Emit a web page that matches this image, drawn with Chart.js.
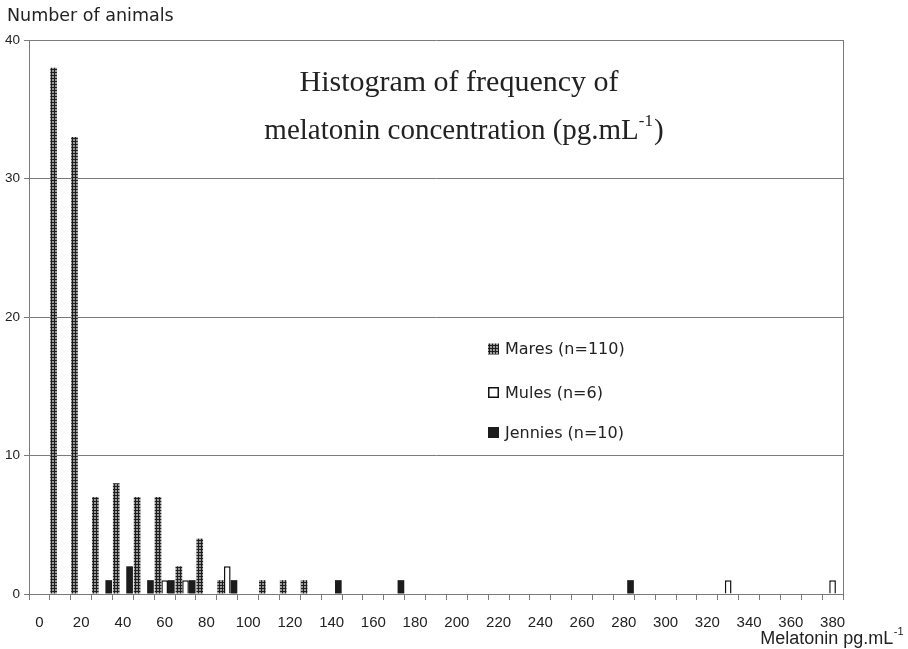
<!DOCTYPE html>
<html>
<head>
<meta charset="utf-8">
<script src="https://cdn.jsdelivr.net/npm/chart.js@4/dist/chart.umd.min.js"></script>
<style>
  html, body { margin: 0; padding: 0; background: #fff; }
  #wrap { width: 908px; height: 649px; position: relative; }
</style>
</head>
<body>
<div id="wrap"><canvas id="c" width="908" height="649"></canvas></div>
<script>
// ---- data ----
const bins = ['0','10','20','30','40','50','60','70','80','90','100','110','120','130','140','150','160','170','180','190',
              '200','210','220','230','240','250','260','270','280','290','300','310','320','330','340','350','360','370','380'];
const mares   = [0,38,33,7,8,7,7,2,4,1,0,1,1,1,0,0,0,0,0,0, 0,0,0,0,0,0,0,0,0,0,0,0,0,0,0,0,0,0,0];
const mules   = [0,0,0,0,0,0,1,1,0,2,0,0,0,0,0,0,0,0,0,0, 0,0,0,0,0,0,0,0,0,0,0,0,0,1,0,0,0,0,1];
const jennies = [0,0,0,1,2,1,1,1,0,1,0,0,0,0,1,0,0,1,0,0, 0,0,0,0,0,0,0,0,1,0,0,0,0,0,0,0,0,0,0];
const seriesNames = ['Mares (n=110)', 'Mules (n=6)', 'Jennies (n=10)'];
const yTicks = [0, 10, 20, 30, 40];
const yAxisTitle = 'Number of animals';
const xAxisTitle = 'Melatonin pg.mL';
const chartTitle1 = 'Histogram of frequency of';
const chartTitle2 = 'melatonin concentration (pg.mL';

// ---- pattern for Mares ----
function makePattern() {
  const p = document.createElement('canvas');
  p.width = 3; p.height = 3;
  const g = p.getContext('2d');
  g.fillStyle = '#9a9a9a';
  g.fillRect(0, 0, 3, 3);
  g.fillStyle = '#1e1e1e';
  g.fillRect(0, 0, 3, 1);
  g.fillRect(0, 0, 1, 3);
  return document.getElementById('c').getContext('2d').createPattern(p, 'repeat');
}
const maresFill = makePattern();

const GRID = '#7a7a7a';

const overlay = {
  id: 'overlay',
  afterDraw(chart) {
    const ctx = chart.ctx;
    const a = chart.chartArea;
    ctx.save();
    // right border of plot area
    ctx.strokeStyle = GRID;
    ctx.lineWidth = 1;
    ctx.beginPath();
    ctx.moveTo(Math.round(a.right) + 0.5, a.top);
    ctx.lineTo(Math.round(a.right) + 0.5, a.bottom);
    ctx.stroke();

    // y axis title
    ctx.fillStyle = '#222';
    ctx.textBaseline = 'alphabetic';
    ctx.textAlign = 'left';
    ctx.font = '17.5px "DejaVu Sans"';
    ctx.fillText(yAxisTitle, 7, 21);

    // x axis title with superscript
    ctx.font = '18px "Liberation Sans"';
    const w1 = ctx.measureText(xAxisTitle).width;
    ctx.font = '11px "Liberation Sans"';
    const w2 = ctx.measureText('-1').width;
    const xEnd = 903;
    const xs = xEnd - w2 - w1;
    ctx.font = '18px "Liberation Sans"';
    ctx.fillText(xAxisTitle, xs, 644);
    ctx.font = '11px "Liberation Sans"';
    ctx.fillText('-1', xs + w1 + 0.5, 635);

    // chart title (inside plot area)
    ctx.fillStyle = '#222';
    ctx.font = '30px "Liberation Serif"';
    ctx.textAlign = 'center';
    ctx.fillText(chartTitle1, 459, 91);
    ctx.textAlign = 'left';
    ctx.font = '29px "Liberation Serif"';
    const t2a = ctx.measureText(chartTitle2).width;
    ctx.font = '17px "Liberation Serif"';
    const t2b = ctx.measureText('-1').width;
    ctx.font = '29px "Liberation Serif"';
    const t2c = ctx.measureText(')').width;
    const total = t2a + t2b + t2c + 1;
    let x0 = 464 - total / 2;
    ctx.fillText(chartTitle2, x0, 139);
    ctx.font = '17px "Liberation Serif"';
    ctx.fillText('-1', x0 + t2a, 126);
    ctx.font = '29px "Liberation Serif"';
    ctx.fillText(')', x0 + t2a + t2b + 1, 139);

    // legend
    const rows = [349, 392.5, 432.5];
    ctx.font = '16px "DejaVu Sans"';
    ctx.textBaseline = 'middle';
    chart.data.datasets.forEach((ds, i) => {
      const y = rows[i];
      const sx = 488, s = 11;
      if (i === 0) {
        ctx.fillStyle = maresFill;
        ctx.fillRect(sx, y - s / 2, s, s);
      } else if (i === 1) {
        ctx.fillStyle = '#fff';
        ctx.fillRect(sx, y - s / 2, s, s);
        ctx.strokeStyle = '#111';
        ctx.lineWidth = 1.5;
        ctx.strokeRect(sx + 0.75, y - s / 2 + 0.75, s - 1.5, s - 1.5);
      } else {
        ctx.fillStyle = '#1c1c1c';
        ctx.fillRect(sx, y - s / 2, s, s);
      }
      ctx.fillStyle = '#222';
      ctx.fillText(ds.label, 505, y + 1);
    });
    ctx.restore();
  }
};

new Chart(document.getElementById('c'), {
  type: 'bar',
  data: {
    labels: bins,
    datasets: [
      { label: seriesNames[0], data: mares, backgroundColor: maresFill, borderWidth: 0 },
      { label: seriesNames[1], data: mules, backgroundColor: '#ffffff', borderColor: '#111', borderWidth: 1.5 },
      { label: seriesNames[2], data: jennies, backgroundColor: '#1c1c1c', borderWidth: 0 }
    ]
  },
  options: {
    responsive: false,
    animation: false,
    events: [],
    layout: { padding: { top: 40, right: 65, left: 0, bottom: 0 } },
    datasets: { bar: { categoryPercentage: 0.96, barPercentage: 1.0 } },
    plugins: { legend: { display: false }, tooltip: { enabled: false }, title: { display: false } },
    scales: {
      x: {
        offset: true,
        afterFit(s) { s.height = 55; },
        grid: { display: true, drawOnChartArea: false, drawTicks: true, tickLength: 6, color: GRID, offset: true },
        border: { display: true, color: GRID, width: 1 },
        ticks: {
          autoSkip: false, maxRotation: 0, minRotation: 0, padding: 14,
          color: '#222',
          font: { family: '"Liberation Sans"', size: 15 },
          callback(v, i) { return i % 2 === 0 ? bins[i] : ''; }
        }
      },
      y: {
        min: 0, max: 40,
        afterFit(s) { s.width = 29; },
        afterBuildTicks(s) { s.ticks = yTicks.map(v => ({ value: v })); },
        grid: { color: GRID, tickLength: 5, drawTicks: true },
        border: { display: true, color: GRID, width: 1 },
        ticks: { padding: 4, color: '#222', font: { family: '"Liberation Sans"', size: 13.5 } }
      }
    }
  },
  plugins: [overlay]
});
</script>
</body>
</html>
